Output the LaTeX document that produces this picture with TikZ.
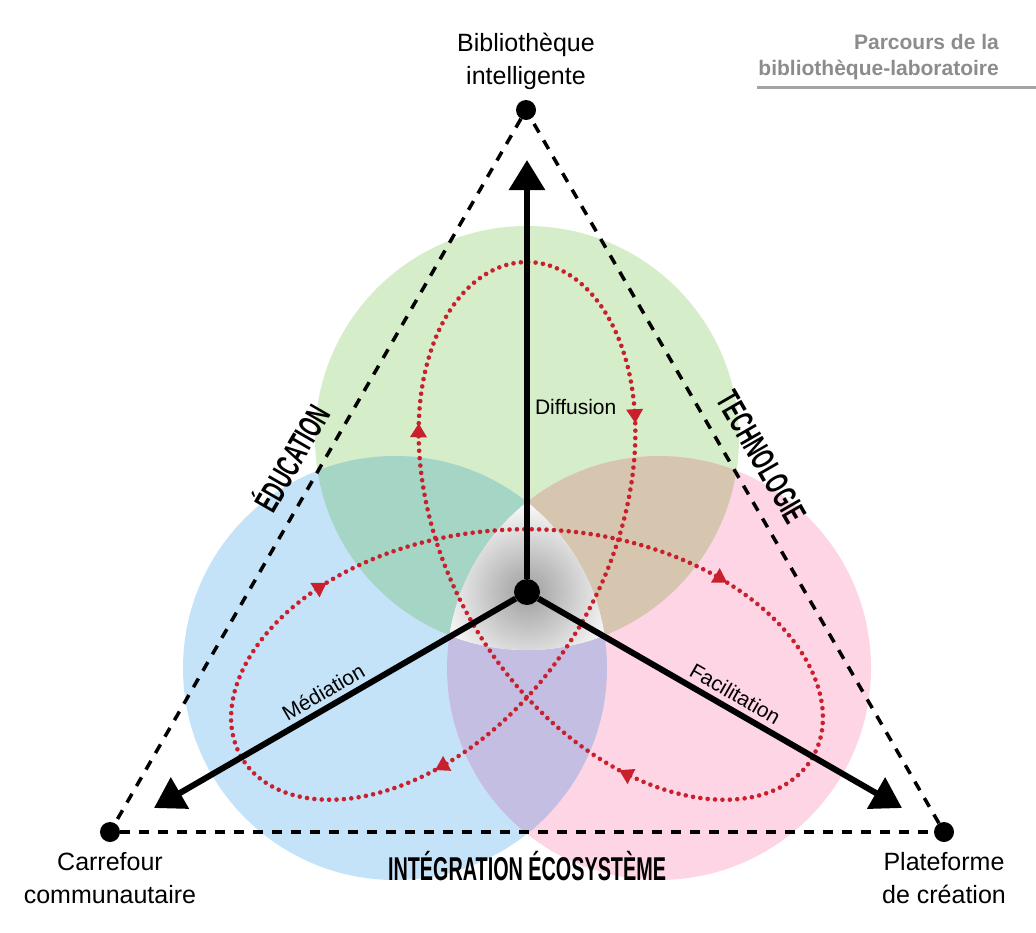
\documentclass[tikz,border=0pt]{standalone}
\usepackage{fontspec}
\setmainfont{Liberation Sans}
\newfontfamily\heavyfont{Liberation Sans}[FakeStretch=0.6]
\usetikzlibrary{arrows.meta,positioning}

\definecolor{greenzone}{RGB}{213,237,200}
\definecolor{bluezone}{RGB}{197,227,248}
\definecolor{pinkzone}{RGB}{253,213,229}
\definecolor{tealzone}{RGB}{165,213,197}
\definecolor{tanzone}{RGB}{214,198,176}
\definecolor{lilaczone}{RGB}{196,191,226}
\definecolor{pathred}{RGB}{200,32,45}
\definecolor{notegray}{RGB}{140,140,140}

\tikzset{
  corner/.style={circle, fill=black, minimum size=20pt, inner sep=0pt},
  hub/.style={circle, fill=black, minimum size=26pt, inner sep=0pt},
  guide/.style={line width=3.5pt, dash pattern=on 10pt off 9pt},
  axis/.style={line width=6pt, -{Triangle[width=35pt,length=30pt]}},
  route/.style={draw=pathred, line width=4.6pt, line cap=round, dash pattern=on 0pt off 7.4pt,
    -{Triangle[width=16pt,length=14pt]}},
  place/.style={font=\fontsize{25}{33}\selectfont, align=center, inner sep=2pt},
  axislabel/.style={font=\fontsize{21}{24}\selectfont, inner sep=2pt},
  sidelabel/.style={font=\heavyfont\bfseries\fontsize{33}{36}\selectfont, inner sep=2pt},
  note/.style={font=\fontsize{21}{26}\selectfont\bfseries, text=notegray, align=right, inner sep=0pt},
}

\begin{document}
\begin{tikzpicture}[x=1pt, y=-1pt]

    \useasboundingbox (0,0) rectangle (1036,932);

    % the three zones
    \coordinate (gc) at (527,438);
    \coordinate (bc) at (395,668);
    \coordinate (pc) at (659,668);
    \fill[greenzone] (gc) circle (212pt);
    \fill[bluezone] (bc) circle (212pt);
    \fill[pinkzone] (pc) circle (212pt);
    \begin{scope}
        \clip (gc) circle (212pt);
        \fill[tealzone] (bc) circle (212pt);
        \fill[tanzone] (pc) circle (212pt);
    \end{scope}
    \begin{scope}
        \clip (bc) circle (212pt);
        \fill[lilaczone] (pc) circle (212pt);
        \clip (pc) circle (212pt);
        \clip (gc) circle (212pt);
        \fill[white] (gc) circle (212pt);
        \shade[inner color=black!38, outer color=white] (527,592) circle (94pt);
    \end{scope}

    % vertices and centre
    \node[corner] (top) at (526,110) {};
    \node[corner] (left) at (110,832) {};
    \node[corner] (right) at (944,832) {};
    \node[hub] (core) at (527,592) {};

    \draw[guide] (top) -- (left);
    \draw[guide] (left) -- (right);
    \draw[guide] (right) -- (top);

    % path through the lab
    \foreach \ta/\tb in {24/96, 96/144, 144/216, 216/264, 264/336, 336/384}
        \draw[route] plot[domain=\ta:\tb, samples=40, smooth]
            ({527+133.6*(sin(\x)+1.47*sin(2*\x))}, {592+133.6*(cos(\x)-1.47*cos(2*\x))});

    \coordinate (tipTop) at (527,160);
    \coordinate (tipLeft) at (154,808);
    \coordinate (tipRight) at (902,808);
    \draw[axis] (core) -- node[pos=0.41, right=3pt, axislabel] (diffLabel) {Diffusion} (tipTop);
    \draw[axis] (core) -- node[pos=0.51, sloped, above=3pt, axislabel] (medLabel) {Médiation} (tipLeft);
    \draw[axis] (core) -- node[pos=0.52, sloped, above=3pt, axislabel] (facLabel) {Facilitation} (tipRight);

    % labels
    \node[place, above=8pt of top] (libTop) {Bibliothèque\\intelligente};
    \node[place, below=8pt of left] (carrefour) {Carrefour\\communautaire};
    \node[place, below=8pt of right] (plateforme) {Plateforme\\de création};

    \node[sidelabel, rotate=60] (edu) at (290,457) {ÉDUCATION};
    \node[sidelabel, rotate=-60] (tech) at (762,457) {TECHNOLOGIE};
    \node[sidelabel] (integ) at (527,866) {INTÉGRATION ÉCOSYSTÈME};

    \node[note, anchor=north east] (parcours) at (999,34) {Parcours de la\\bibliothèque-laboratoire};
    \coordinate (ruleL) at (757,87);
    \coordinate (ruleR) at (1036,87);
    \draw[notegray!80, line width=3pt] (ruleL) -- (ruleR);

\end{tikzpicture}
\end{document}
